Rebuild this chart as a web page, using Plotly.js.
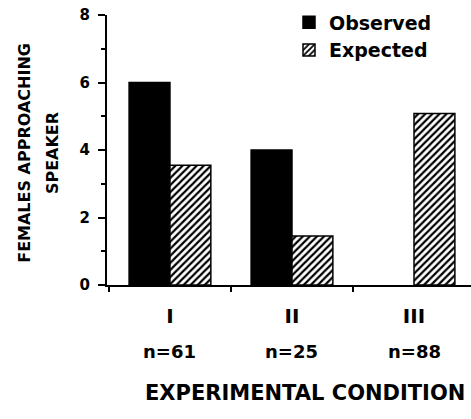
<!DOCTYPE html>
<html>
<head>
<meta charset="utf-8">
<script src="https://cdn.plot.ly/plotly-3.0.1.min.js"></script>
<style>
html,body{margin:0;padding:0;background:#fff;}
#chart{width:471px;height:419px;}
</style>
</head>
<body>
<div id="chart"></div>
<script>
const conditions = ["I", "II", "III"];
const sampleSizes = ["n=61", "n=25", "n=88"];
const observed = [6.0, 4.0, 0];
const expected = [3.55, 1.45, 5.08];
const seriesNames = ["Observed", "Expected"];
const yTitleLines = ["FEMALES APPROACHING", "SPEAKER"];
const xTitle = "EXPERIMENTAL CONDITION";

const F = "DejaVu Sans";
const outline = v => v.map(d => d > 0 ? 1.5 : 0);
const traces = [
  {
    type: "bar", name: seriesNames[0], x: conditions, y: observed,
    marker: {color: "#000", line: {color: "#000", width: outline(observed)}}
  },
  {
    type: "bar", name: seriesNames[1], x: conditions, y: expected,
    marker: {color: "#fff", line: {color: "#000", width: outline(expected)},
      pattern: {shape: "/", fgcolor: "#000", bgcolor: "#fff", size: 5, solidity: 0.45}}
  }
];

const annotations = conditions.map((c, i) => ({
  x: c, xref: "x", y: -0.248, yref: "paper", text: sampleSizes[i],
  showarrow: false, font: {family: F, size: 18, weight: "bold", color: "#000"},
  yanchor: "middle"
}));
yTitleLines.forEach((t, i) => annotations.push({
  x: [-0.225, -0.15][i], xref: "paper", y: 0.49, yref: "paper", text: t, textangle: -90,
  showarrow: false, font: {family: F, size: 16, weight: "bold", color: "#000"},
  xanchor: "center", yanchor: "middle"
}));
annotations.push({
  x: 0.544, xref: "paper", y: -0.40, yref: "paper", text: xTitle,
  showarrow: false, font: {family: F, size: 21, weight: "bold", color: "#000"},
  xanchor: "center", yanchor: "middle"
});

const layout = {
  width: 471, height: 419,
  margin: {l: 107, r: 0, t: 15, b: 134},
  paper_bgcolor: "#fff", plot_bgcolor: "#fff",
  barmode: "group", bargap: 0.33, bargroupgap: 0,
  showlegend: true,
  legend: {x: 0.5, y: 1.043, xanchor: "left", yanchor: "top", bgcolor: "rgba(0,0,0,0)",
    font: {family: F, size: 19, weight: "bold", color: "#000"}, traceorder: "normal"},
  xaxis: {
    type: "category", range: [-0.516, 2.467],
    showline: true, linecolor: "#000", linewidth: 2,
    ticks: "outside", tickson: "boundaries", ticklen: 5, tickwidth: 2, tickcolor: "#000",
    showgrid: false, zeroline: false,
    tickfont: {family: F, size: 20, weight: "bold", color: "#000"},
    ticklabelstandoff: 12
  },
  yaxis: {
    range: [0, 8], dtick: 2, tick0: 0,
    showline: true, linecolor: "#000", linewidth: 2,
    ticks: "outside", ticklen: 7, tickwidth: 2, tickcolor: "#000",
    minor: {dtick: 1, ticks: "outside", ticklen: 4, tickwidth: 2, tickcolor: "#000"},
    showgrid: false, zeroline: false,
    tickfont: {family: F, size: 15, weight: "bold", color: "#000"},
    ticklabelstandoff: 5
  },
  annotations: annotations
};

Plotly.newPlot("chart", traces, layout, {displayModeBar: false, staticPlot: true});
</script>
</body>
</html>
